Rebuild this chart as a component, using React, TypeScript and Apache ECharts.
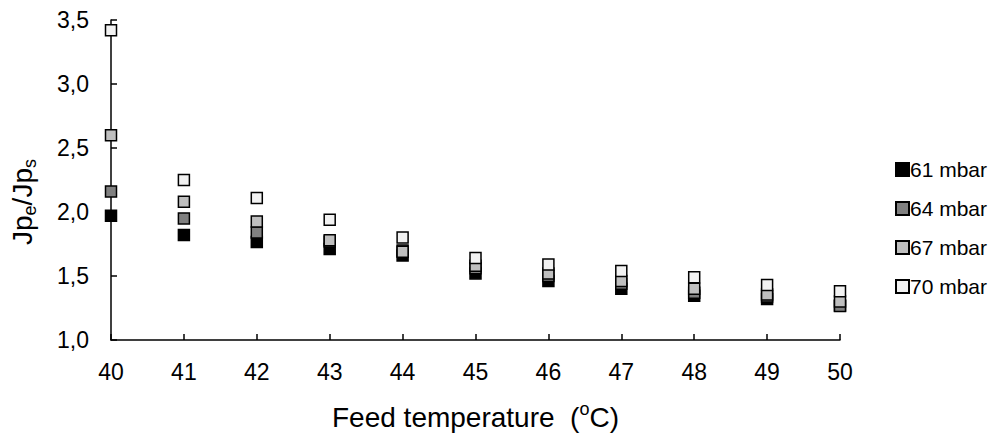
import React, { useEffect, useRef } from "react";
import * as echarts from "echarts";

const temperatures = [40, 41, 42, 43, 44, 45, 46, 47, 48, 49, 50];
const seriesNames = ["61 mbar", "64 mbar", "67 mbar", "70 mbar"];
const s61 = [1.97, 1.82, 1.765, 1.71, 1.66, 1.52, 1.46, 1.40, 1.345, 1.32, 1.27];
const s64 = [2.16, 1.95, 1.84, 1.77, 1.70, 1.56, 1.50, 1.44, 1.37, 1.34, 1.265];
const s67 = [2.60, 2.08, 1.925, 1.78, 1.69, 1.58, 1.52, 1.46, 1.40, 1.355, 1.30];
const s70 = [3.42, 2.25, 2.11, 1.94, 1.80, 1.64, 1.59, 1.54, 1.49, 1.43, 1.38];
const fills = ["#000000", "#808080", "#bfbfbf", "#f2f2f2"];

export default function App() {
  const ref = useRef<HTMLDivElement>(null);
  useEffect(() => {
    if (!ref.current) return;
    const chart = echarts.init(ref.current, null, { renderer: "svg" });
    const all = [s61, s64, s67, s70];
    const font = "Arial, 'Liberation Sans', sans-serif";
    chart.setOption({
      animation: false,
      backgroundColor: "#ffffff",
      textStyle: { fontFamily: font },
      grid: { left: 110, right: 149, top: 20, bottom: 94, containLabel: false },
      legend: {
        orient: "vertical",
        left: 890,
        top: 154,
        itemWidth: 13,
        itemHeight: 13,
        itemGap: 18,
        icon: "rect",
        textStyle: { fontSize: 21, color: "#000", fontFamily: font, padding: [0, 0, 0, -4] },
        data: seriesNames,
      },
      xAxis: {
        type: "value",
        min: 40,
        max: 50,
        interval: 1,
        splitLine: { show: false },
        axisLine: { lineStyle: { color: "#000", width: 1.5 } },
        axisTick: { inside: true, length: 6, lineStyle: { color: "#000", width: 1.5 } },
        axisLabel: { fontSize: 23, color: "#000", margin: 20, fontFamily: font },
        name: "{t|Feed temperature  (}{sup|o}{t|C)}",
        nameLocation: "middle",
        nameGap: 60,
        nameTextStyle: {
          rich: {
            t: { fontSize: 28, color: "#000", fontFamily: font, lineHeight: 34 },
            sup: { fontSize: 18, color: "#000", fontFamily: font, verticalAlign: "top", lineHeight: 34 },
          },
        },
      },
      yAxis: {
        type: "value",
        min: 1,
        max: 3.5,
        interval: 0.5,
        splitLine: { show: false },
        axisLine: { show: true, lineStyle: { color: "#000", width: 1.5 } },
        axisTick: { show: true, inside: true, length: 6, lineStyle: { color: "#000", width: 1.5 } },
        axisLabel: {
          fontSize: 23,
          color: "#000",
          margin: 22,
          fontFamily: font,
          formatter: (v: number) => v.toFixed(1).replace(".", ","),
        },
        name: "{a|Jp}{b|e}{a|/Jp}{b|s}",
        nameLocation: "middle",
        nameGap: 72,
        nameTextStyle: {
          padding: [0, 44, 0, 0],
          rich: {
            a: { fontSize: 28, color: "#000", fontFamily: font, lineHeight: 34 },
            b: { fontSize: 18, color: "#000", fontFamily: font, verticalAlign: "bottom", lineHeight: 34 },
          },
        },
      },
      series: all.map((vals, i) => ({
        name: seriesNames[i],
        type: "scatter",
        symbol: "rect",
        symbolSize: 11,
        itemStyle: { color: fills[i], borderColor: "#000", borderWidth: 1.5, opacity: 1 },
        data: temperatures.map((t, j) => [t, vals[j]]),
      })),
    });
    return () => chart.dispose();
  }, []);
  return <div ref={ref} style={{ width: 989, height: 436, position: "absolute", left: 0, top: 0 }} />;
}
